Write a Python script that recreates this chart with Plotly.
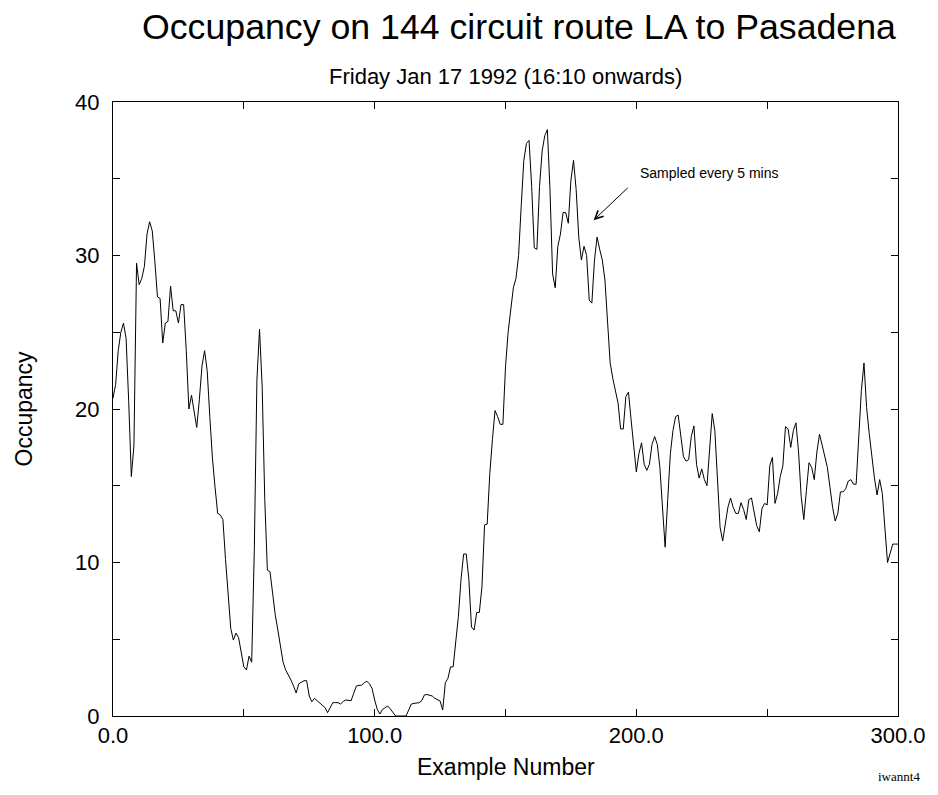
import numpy as np
import plotly.graph_objects as go

# Bus occupancy, one reading per example (x = 0 .. 300)
occupancy = [
    20.7, 21.6, 23.8, 25.0, 25.6, 24.6, 20.5, 15.6, 17.6, 29.5,
    28.1, 28.5, 29.3, 31.4, 32.2, 31.6, 29.6, 27.3, 27.2, 24.3,
    25.6, 25.7, 28.0, 26.4, 26.4, 25.6, 26.8, 26.8, 23.8, 20.0,
    20.9, 19.7, 18.8, 20.6, 22.8, 23.8, 22.5, 19.5, 16.8, 14.9,
    13.2, 13.1, 12.8, 10.2, 7.8, 5.7, 4.95, 5.4, 5.1, 4.1,
    3.2, 3.0, 3.9, 3.5, 10.8, 21.9, 25.2, 21.5, 14.1, 9.5,
    9.4, 8.0, 6.6, 5.6, 4.5, 3.5, 3.0, 2.7, 2.35, 1.95,
    1.5, 2.1, 2.2, 2.3, 2.3, 1.3, 0.93, 1.15, 1.0, 0.85,
    0.75, 0.55, 0.22, 0.6, 0.87, 0.87, 0.87, 0.78, 0.95, 1.04,
    1.0, 1.0, 1.48, 1.95, 2.0, 2.0, 2.17, 2.26, 2.1, 1.8,
    1.04, 0.43, 0.13, 0.43, 0.54, 0.65, 0.46, 0.2, 0.0, 0.0,
    0.0, 0.0, 0.0, 0.39, 0.78, 0.82, 0.87, 0.87, 1.0, 1.37,
    1.4, 1.35, 1.3, 1.15, 1.04, 0.98, 0.39, 2.17, 2.45, 3.2,
    3.2, 4.95, 6.5, 8.9, 10.55, 10.55, 8.9, 5.8, 5.6, 6.75,
    6.75, 8.4, 12.45, 12.5, 15.8, 18.0, 19.9, 19.5, 19.0, 19.0,
    22.75, 25.0, 26.6, 27.9, 28.5, 30.0, 33.2, 36.2, 37.3, 37.5,
    34.5, 30.5, 30.4, 34.5, 36.8, 37.8, 38.2, 34.3, 28.8, 27.9,
    30.6, 31.4, 32.8, 32.8, 32.1, 34.9, 36.2, 34.3, 31.2, 29.7,
    30.6, 30.0, 27.1, 26.9, 29.7, 31.2, 30.4, 29.7, 28.4, 25.6,
    23.0, 22.0, 21.2, 20.4, 18.7, 18.7, 20.8, 21.1, 19.3, 17.5,
    15.9, 17.1, 17.8, 16.4, 16.0, 16.4, 17.7, 18.2, 17.7, 16.2,
    13.4, 11.0, 14.1, 17.1, 18.6, 19.5, 19.6, 18.2, 16.9, 16.6,
    16.7, 18.2, 18.9, 16.4, 15.5, 16.1, 15.4, 15.0, 17.3, 19.7,
    18.6, 15.5, 12.3, 11.4, 12.55, 13.6, 14.2, 13.6, 13.2, 13.2,
    13.9, 13.45, 12.8, 14.1, 14.2, 13.3, 12.4, 12.0, 13.5, 13.85,
    13.75, 16.3, 16.85, 13.85, 14.5, 15.6, 16.3, 18.85, 18.7, 17.5,
    18.6, 19.1, 17.2, 14.3, 12.8, 14.7, 16.5, 16.2, 15.4, 17.2,
    18.35, 17.65, 16.9, 16.2, 14.9, 13.6, 12.7, 13.2, 14.6, 14.6,
    14.8, 15.3, 15.4, 15.1, 15.1, 18.4, 21.2, 23.0, 20.1, 18.4,
    16.9, 15.5, 14.4, 15.4, 14.5, 12.1, 10.0, 10.6, 11.2, 11.2,
    11.2,
]
example_number = np.arange(len(occupancy))

x_tickvals = [0, 100, 200, 300]
x_ticktext = ["0.0", "100.0", "200.0", "300.0"]
y_tickvals = [0, 10, 20, 30, 40]
y_ticktext = ["0", "10", "20", "30", "40"]

FONT = "Liberation Sans, Arial, sans-serif"

fig = go.Figure()
fig.add_trace(go.Scatter(
    x=example_number, y=occupancy, mode="lines",
    line=dict(color="black", width=1.0),
    showlegend=False, hoverinfo="skip",
))

axis_common = dict(
    showgrid=False, zeroline=False,
    showline=True, linecolor="black", linewidth=1, mirror="allticks",
    ticks="inside", ticklen=7, tickwidth=1, tickcolor="black",
    tickfont=dict(family=FONT, size=22, color="black"),
)

fig.update_xaxes(
    range=[0, 300], tickvals=x_tickvals, ticktext=x_ticktext,
    minor=dict(dtick=50, tick0=0, ticks="inside", ticklen=7, tickcolor="black"),
    **axis_common,
)
fig.update_yaxes(
    range=[0, 40], tickvals=y_tickvals, ticktext=y_ticktext,
    minor=dict(dtick=5, tick0=0, ticks="inside", ticklen=7, tickcolor="black"),
    ticklabelstandoff=8,
    **axis_common,
)

annotations = [
    dict(text="Occupancy on 144 circuit route LA to Pasadena",
         x=0.5177, y=1.122, xref="paper", yref="paper",
         xanchor="center", yanchor="middle", showarrow=False,
         font=dict(family=FONT, size=35.7, color="black")),
    dict(text="Friday Jan 17 1992 (16:10 onwards)",
         x=0.5, y=1.042, xref="paper", yref="paper",
         xanchor="center", yanchor="middle", showarrow=False,
         font=dict(family=FONT, size=22, color="black")),
    dict(text="Example Number",
         x=0.5, y=-0.083, xref="paper", yref="paper",
         xanchor="center", yanchor="middle", showarrow=False,
         font=dict(family=FONT, size=23, color="black")),
    dict(text="Occupancy", textangle=-90,
         x=-0.114, y=0.5, xref="paper", yref="paper",
         xanchor="center", yanchor="middle", showarrow=False,
         font=dict(family=FONT, size=23, color="black")),
    dict(text="iwannt4",
         x=1.0015, y=-0.098, xref="paper", yref="paper",
         xanchor="center", yanchor="middle", showarrow=False,
         font=dict(family="Liberation Serif, Times New Roman, serif", size=13, color="black")),
    dict(text="Sampled every 5 mins",
         x=200.8, y=35.4, xref="x", yref="y",
         xanchor="left", yanchor="middle", showarrow=False,
         font=dict(family=FONT, size=14, color="black")),
    dict(text="", x=183.7, y=32.3, xref="x", yref="y",
         ax=197.3, ay=34.5, axref="x", ayref="y",
         showarrow=True, arrowhead=5, arrowsize=1.6, arrowwidth=1,
         arrowcolor="black"),
]

fig.update_layout(
    width=938, height=795,
    margin=dict(l=113, r=36, t=102, b=79, pad=0),
    paper_bgcolor="white", plot_bgcolor="white",
    annotations=annotations,
    font=dict(family=FONT, color="black"),
)

fig.write_html("out.html", config={"displayModeBar": False})
